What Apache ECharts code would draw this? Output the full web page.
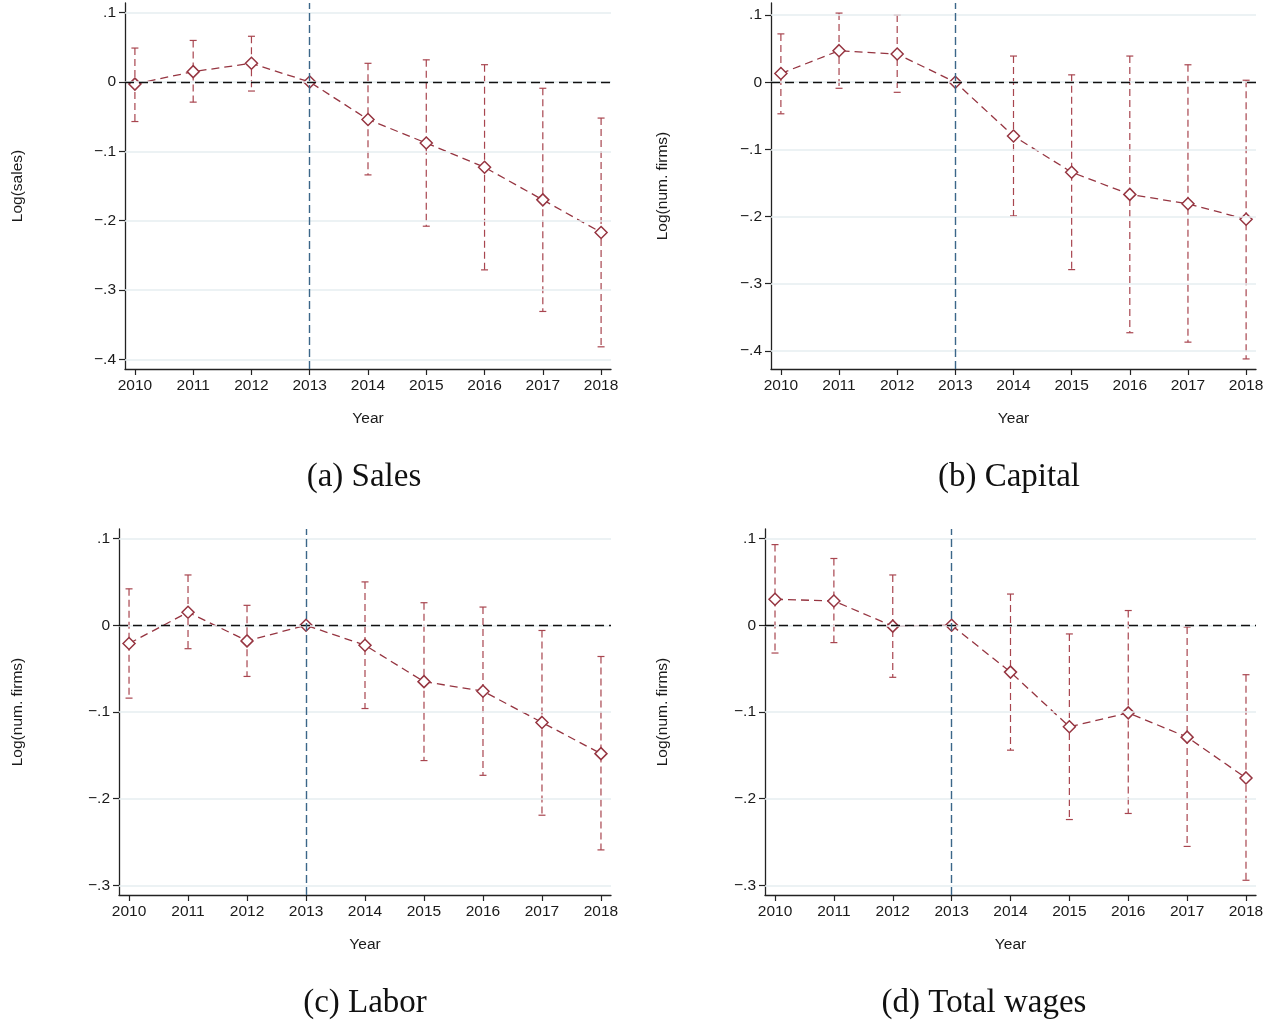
<!DOCTYPE html>
<html>
<head>
<meta charset="utf-8">
<title>Event-study estimates</title>
<script src="https://cdn.jsdelivr.net/npm/echarts@6/dist/echarts.min.js"></script>
<style>
  html, body { margin: 0; padding: 0; background: #ffffff; }
  #chart { width: 1277px; height: 1025px; }
</style>
</head>
<body>
<div id="chart"></div>
<script>
// Years of the event window; 2013 is the reference year (no interval)
const years = [2010, 2011, 2012, 2013, 2014, 2015, 2016, 2017, 2018];
const baseYear = 2013;

// (a) Sales
const salesCoef  = [-0.003, 0.015, 0.027, 0, -0.054, -0.088, -0.123, -0.170, -0.217];
const salesHi    = [0.049, 0.060, 0.066, null, 0.027, 0.032, 0.025, -0.009, -0.052];
const salesLo    = [-0.057, -0.029, -0.013, null, -0.134, -0.208, -0.271, -0.331, -0.382];

// (b) Capital
const capitalCoef = [0.013, 0.047, 0.042, 0, -0.080, -0.134, -0.167, -0.181, -0.204];
const capitalHi   = [0.072, 0.103, 0.100, null, 0.039, 0.011, 0.039, 0.026, 0.003];
const capitalLo   = [-0.047, -0.009, -0.015, null, -0.199, -0.279, -0.373, -0.387, -0.412];

// (c) Labor
const laborCoef = [-0.021, 0.015, -0.018, 0, -0.023, -0.065, -0.076, -0.112, -0.148];
const laborHi   = [0.042, 0.058, 0.023, null, 0.050, 0.026, 0.021, -0.006, -0.036];
const laborLo   = [-0.084, -0.027, -0.059, null, -0.096, -0.156, -0.173, -0.219, -0.259];

// (d) Total wages
const wagesCoef = [0.030, 0.028, -0.001, 0, -0.054, -0.117, -0.101, -0.129, -0.176];
const wagesHi   = [0.093, 0.077, 0.058, null, 0.036, -0.010, 0.017, -0.002, -0.057];
const wagesLo   = [-0.032, -0.020, -0.060, null, -0.144, -0.224, -0.217, -0.255, -0.294];

// Tick labels
const yTicksTop    = [0.1, 0, -0.1, -0.2, -0.3, -0.4];
const yTicksBottom = [0.1, 0, -0.1, -0.2, -0.3];

const panelTitles = ['(a) Sales', '(b) Capital', '(c) Labor', '(d) Total wages'];
const yTitles = ['Log(sales)', 'Log(num. firms)', 'Log(num. firms)', 'Log(num. firms)'];
const xTitle = 'Year';

const SANS = '"Liberation Sans", Arial, sans-serif';
const SERIF = '"Liberation Serif", "Times New Roman", serif';
const RED = '#963541';
const CI_RED = '#a8454f';
const NAVY = '#3b6689';
const GRID = '#e6eef0';

const panels = [
  { coef: salesCoef,   hi: salesHi,   lo: salesLo,   ticks: yTicksTop,
    grid: { left: 125, top: 3, width: 486, height: 366 }, ymin: -0.414, ymax: 0.114, nameGap: 99,
    caption: { x: 364, y: 477 } },
  { coef: capitalCoef, hi: capitalHi, lo: capitalLo, ticks: yTicksTop,
    grid: { left: 771, top: 3, width: 485, height: 366 }, ymin: -0.427, ymax: 0.118, nameGap: 100,
    caption: { x: 1009, y: 477 } },
  { coef: laborCoef,   hi: laborHi,   lo: laborLo,   ticks: yTicksBottom,
    grid: { left: 119, top: 529, width: 492, height: 366 }, ymin: -0.311, ymax: 0.111, nameGap: 93,
    caption: { x: 365, y: 1003 } },
  { coef: wagesCoef,   hi: wagesHi,   lo: wagesLo,   ticks: yTicksBottom,
    grid: { left: 765, top: 529, width: 491, height: 366 }, ymin: -0.311, ymax: 0.111, nameGap: 94,
    caption: { x: 984, y: 1003 } }
];

function fmtY(v) {
  const r = Math.round(v * 10);
  if (r === 0) return '0';
  return (r < 0 ? '\u2212' : '') + '.' + Math.abs(r);
}

const grids = [], xAxes = [], yAxes = [], series = [], graphics = [];

panels.forEach((p, i) => {
  grids.push(Object.assign({ containLabel: false }, p.grid));

  xAxes.push({
    type: 'value', gridIndex: i, min: 2009.83, max: 2018.17,
    name: xTitle, nameLocation: 'middle', nameGap: 42,
    nameTextStyle: { fontFamily: SANS, fontSize: 15.5, color: '#1a1a1a' },
    axisLine: { show: true, onZero: false, lineStyle: { color: '#222', width: 1.3 } },
    axisTick: { show: true, length: 6, customValues: years, lineStyle: { color: '#222', width: 1.2 } },
    axisLabel: { customValues: years, margin: 9, fontFamily: SANS, fontSize: 15.5, color: '#1a1a1a',
                 formatter: v => String(v) },
    splitLine: { show: false }
  });

  yAxes.push({
    type: 'value', gridIndex: i, min: p.ymin, max: p.ymax,
    name: yTitles[i], nameLocation: 'middle', nameRotate: 90, nameGap: p.nameGap,
    nameTextStyle: { fontFamily: SANS, fontSize: 15.5, color: '#1a1a1a' },
    axisLine: { show: true, onZero: false, lineStyle: { color: '#222', width: 1.3 } },
    axisTick: { show: true, length: 6, customValues: p.ticks, lineStyle: { color: '#222', width: 1.2 } },
    axisLabel: { customValues: p.ticks, margin: 9, fontFamily: SANS, fontSize: 15.5, color: '#1a1a1a',
                 formatter: fmtY },
    splitLine: { show: false }
  });

  // Light horizontal grid lines at the tick values
  series.push({
    type: 'line', xAxisIndex: i, yAxisIndex: i, data: [], silent: true, z: 1,
    markLine: {
      silent: true, symbol: 'none', animation: false, label: { show: false },
      lineStyle: { color: GRID, width: 1.6, type: 'solid' },
      data: p.ticks.map(t => ({ yAxis: t }))
    }
  });

  // Zero line and reference-year line
  series.push({
    type: 'line', xAxisIndex: i, yAxisIndex: i, data: [], silent: true, z: 2,
    markLine: {
      silent: true, symbol: 'none', animation: false, label: { show: false },
      data: [
        { yAxis: 0, lineStyle: { color: '#111', width: 1.4, type: [9, 5] } },
        { xAxis: baseYear, lineStyle: { color: NAVY, width: 1.4, type: [8, 4] } }
      ]
    }
  });

  // Confidence intervals with capped ends
  const ciData = years.map((y, k) => [y, p.lo[k], p.hi[k]]).filter(d => d[1] !== null);
  series.push({
    type: 'custom', xAxisIndex: i, yAxisIndex: i, z: 3, silent: true,
    data: ciData,
    encode: { x: 0, y: [1, 2] },
    renderItem: (params, api) => {
      const x = api.value(0);
      const lo = api.coord([x, api.value(1)]);
      const hi = api.coord([x, api.value(2)]);
      const cap = 3.5;
      const style = { stroke: CI_RED, lineWidth: 1.2 };
      return {
        type: 'group',
        children: [
          { type: 'line', shape: { x1: hi[0], y1: hi[1], x2: lo[0], y2: lo[1] },
            style: Object.assign({ lineDash: [7, 4] }, style) },
          { type: 'line', shape: { x1: hi[0] - cap, y1: hi[1], x2: hi[0] + cap, y2: hi[1] }, style },
          { type: 'line', shape: { x1: lo[0] - cap, y1: lo[1], x2: lo[0] + cap, y2: lo[1] }, style }
        ]
      };
    }
  });

  // Point estimates joined by a dashed line, drawn as hollow diamonds
  series.push({
    type: 'line', xAxisIndex: i, yAxisIndex: i, z: 4, silent: true,
    data: years.map((y, k) => [y, p.coef[k]]),
    symbol: 'diamond', symbolSize: 12, showAllSymbol: true,
    lineStyle: { color: RED, width: 1.3, type: [8, 5] },
    itemStyle: { color: '#ffffff', borderColor: RED, borderWidth: 1.5 },
    animation: false
  });

  graphics.push({
    type: 'text', x: p.caption.x, y: p.caption.y,
    style: { text: panelTitles[i], font: '33px ' + SERIF, fill: '#111',
             textAlign: 'center', textVerticalAlign: 'middle' }
  });
});

const chart = echarts.init(document.getElementById('chart'), null, { renderer: 'canvas' });
chart.setOption({
  backgroundColor: '#ffffff',
  animation: false,
  grid: grids,
  xAxis: xAxes,
  yAxis: yAxes,
  series: series,
  graphic: graphics
});
</script>
</body>
</html>
